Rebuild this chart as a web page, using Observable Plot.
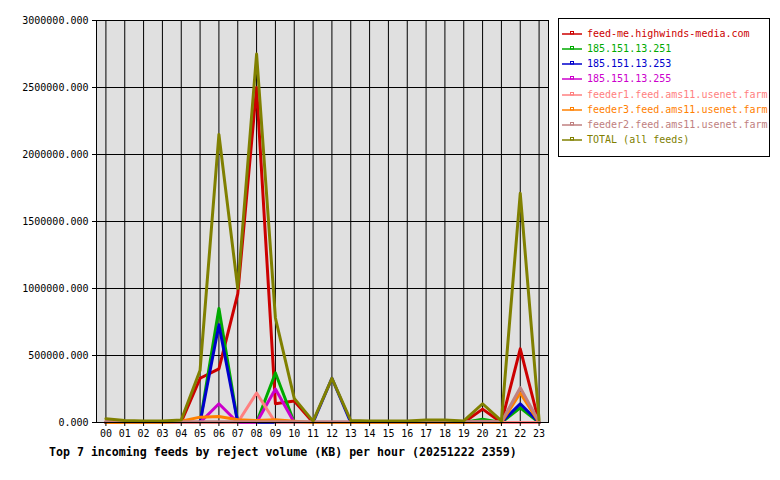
<!DOCTYPE html>
<html>
<head>
<meta charset="utf-8">
<script src="https://cdn.jsdelivr.net/npm/d3@7"></script>
<script src="https://cdn.jsdelivr.net/npm/@observablehq/plot@0.6"></script>
<style>
  html, body { margin: 0; padding: 0; background: white; }
  #wrap { position: relative; width: 780px; height: 480px; font-family: "DejaVu Sans Mono", monospace; }
  #legend { position: absolute; left: 558px; top: 18px; width: 210px; height: 130px; border: 1px solid black; background: white; padding-top: 7px; box-sizing: content-box; }
  .row { height: 15.14px; display: flex; align-items: center; font-size: 10px; white-space: nowrap; }
  .row svg { margin-left: 3px; margin-right: 5px; }
  #title { position: absolute; left: 49px; top: 445px; font-weight: bold; font-size: 11.6px; line-height: 14px; white-space: nowrap; }
</style>
</head>
<body>
<div id="wrap"><div id="chart"></div><div id="legend"></div><div id="title"></div></div>
<script>
const hours = ["00","01","02","03","04","05","06","07","08","09","10","11","12","13","14","15","16","17","18","19","20","21","22","23"];
const yTicks = [0, 500000, 1000000, 1500000, 2000000, 2500000, 3000000];
const feedNames = ["feed-me.highwinds-media.com","185.151.13.251","185.151.13.253","185.151.13.255","feeder1.feed.ams11.usenet.farm","feeder3.feed.ams11.usenet.farm","feeder2.feed.ams11.usenet.farm","TOTAL (all feeds)"];
const feedColors = ["#cc0000","#00aa00","#0000cc","#cc00cc","#ff8080","#ff8000","#c08080","#808000"];
const feedme   = [0,0,0,0,5000,330000,400000,960000,2500000,140000,160000,0,0,0,0,0,0,0,0,0,100000,0,550000,0];
const ip251    = [0,0,0,0,0,0,850000,0,0,370000,0,0,0,0,0,0,0,0,0,0,25000,0,110000,0];
const ip253    = [0,0,0,0,0,0,730000,0,0,0,0,0,330000,0,0,0,0,0,0,0,0,0,140000,0];
const ip255    = [0,0,0,0,0,0,140000,0,0,250000,0,0,0,0,0,0,0,0,0,0,0,0,0,0];
const feeder1  = [0,0,0,0,0,0,0,0,220000,0,0,0,0,0,0,0,0,0,0,0,0,0,0,0];
const feeder3  = [0,0,0,0,10000,40000,45000,20000,15000,20000,10000,0,0,0,0,0,0,0,0,0,5000,0,220000,0];
const feeder2  = [10000,5000,5000,5000,5000,5000,5000,5000,5000,5000,5000,5000,5000,5000,5000,5000,5000,5000,5000,5000,10000,5000,260000,5000];
const total    = [28000,15000,12000,12000,18000,390000,2150000,1000000,2750000,780000,180000,10000,330000,15000,12000,12000,12000,18000,18000,12000,140000,12000,1710000,20000];
const seriesValues = [feedme, ip251, ip253, ip255, feeder1, feeder3, feeder2, total];

const fmt = d3.format(".3f");
const chart = Plot.plot({
  width: 780, height: 445,
  marginLeft: 96, marginRight: 232, marginTop: 20, marginBottom: 23,
  style: {fontFamily: "DejaVu Sans Mono", fontSize: "10px", background: "white", color: "black", overflow: "visible"},
  x: {domain: [-0.5, 23.5]},
  y: {domain: [0, 3000000]},
  marks: [
    Plot.frame({fill: "#e0e0e0"}),
    Plot.gridX(d3.range(24), {stroke: "black", strokeOpacity: 1}),
    Plot.gridY(yTicks, {stroke: "black", strokeOpacity: 1}),
    ...seriesValues.map((vals, k) => Plot.line(vals, {x: (d, i) => i, y: d => d, stroke: feedColors[k], strokeWidth: 3})),
    Plot.frame({stroke: "black"}),
    Plot.axisX(d3.range(24), {tickFormat: i => hours[i], tickSize: 4, tickPadding: 3, label: null}),
    Plot.axisY(yTicks, {tickFormat: fmt, tickSize: 4, tickPadding: 4, label: null})
  ]
});
document.getElementById("chart").appendChild(chart);

const legend = document.getElementById("legend");
feedNames.forEach((name, k) => {
  const row = document.createElement("div");
  row.className = "row";
  const c = feedColors[k];
  row.innerHTML = `<svg width="20" height="9"><line x1="0" x2="20" y1="5" y2="5" stroke="${c}" stroke-width="1.5"/><rect x="8.5" y="2.5" width="3" height="2.5" fill="none" stroke="${c}" stroke-width="1"/></svg><span style="color:${c}">${name}</span>`;
  legend.appendChild(row);
});
document.getElementById("title").textContent = "Top 7 incoming feeds by reject volume (KB) per hour (20251222 2359)";
</script>
</body>
</html>
